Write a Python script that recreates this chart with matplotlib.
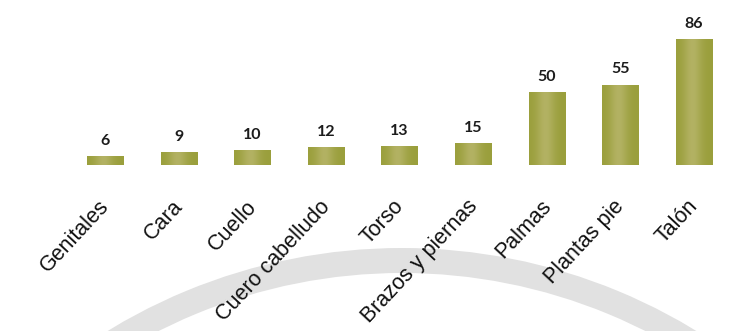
import numpy as np
import matplotlib
matplotlib.use("Agg")
import matplotlib.pyplot as plt
from matplotlib.patches import Wedge
from matplotlib.transforms import ScaledTranslation
from matplotlib.colors import to_rgb

# ---- data ----
categories = ["Genitales", "Cara", "Cuello", "Cuero cabelludo", "Torso",
              "Brazos y piernas", "Palmas", "Plantas pie", "Talón"]
values = [6, 9, 10, 12, 13, 15, 50, 55, 86]

W, H, DPI = 752, 331, 100
fig = plt.figure(figsize=(W / DPI, H / DPI), dpi=DPI)
fig.patch.set_facecolor("white")

# background decorative arc (pixel coordinates)
bg = fig.add_axes([0, 0, 1, 1], zorder=0)
bg.set_xlim(0, W)
bg.set_ylim(H, 0)
bg.axis("off")
bg.add_patch(Wedge((402, 812), 564, 0, 360, width=25,
                   facecolor="#e1e1e1", edgecolor="none"))

ax = fig.add_axes([0, 0, 1, 1], zorder=1)
ax.patch.set_alpha(0)
x = np.arange(len(categories))
step = 73.6
ax.set_xlim(-105 / step, (W - 105) / step)
ppu = 1.46
ax.set_ylim(-(H - 165) / ppu, 165 / ppu)

bars = ax.bar(x, values, width=0.49, color="#a3a748", edgecolor="none", zorder=2)

# subtle cylindrical shading inside each bar
dark = np.array(to_rgb("#9a9f3c"))
light = np.array(to_rgb("#b3b263"))
t = np.linspace(0, 1, 64)
w = np.exp(-((t - 0.45) / 0.25) ** 2)
grad = dark[None, :] * (1 - w[:, None]) + light[None, :] * w[:, None]
grad = grad[None, :, :]
for b in bars:
    x0, y0 = b.get_x(), b.get_y()
    im = ax.imshow(grad, extent=[x0, x0 + b.get_width(), y0, y0 + b.get_height()],
                   aspect="auto", zorder=3, interpolation="bilinear")
    im.set_clip_path(b)

for xi, v in zip(x, values):
    ax.annotate(str(v), (xi, v), xytext=(0, 6), textcoords="offset points",
                ha="center", va="bottom", fontsize=11.5, fontweight="bold",
                family="Lato", color="#1c1c1c", zorder=4)

# category labels, rotated, ending just below each bar
off = ScaledTranslation(5 / DPI, -42 / DPI, fig.dpi_scale_trans)
for xi, c in zip(x, categories):
    ax.text(xi, 0, c, transform=ax.transData + off, rotation=47,
            rotation_mode="anchor", ha="right", va="baseline",
            fontsize=15.5, family="Liberation Sans", color="#111111", zorder=4)

ax.set_xticks([])
ax.set_yticks([])
for s in ax.spines.values():
    s.set_visible(False)

fig.savefig("out.png", dpi=DPI)
